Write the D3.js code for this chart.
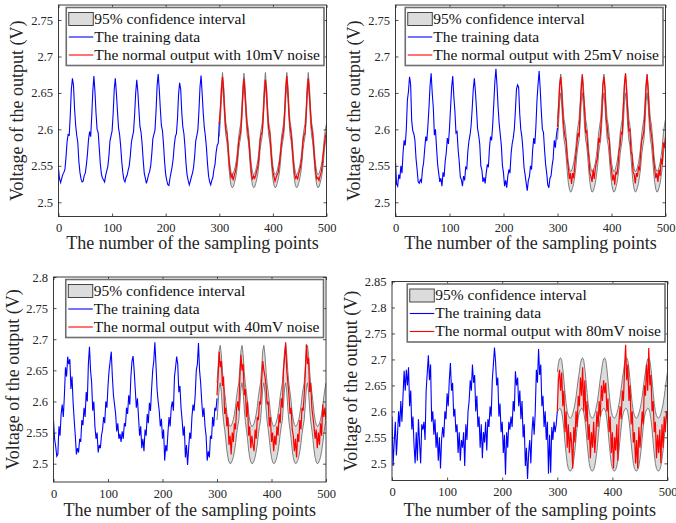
<!DOCTYPE html>
<html lang="en">
<head>
<meta charset="utf-8" />
<title>Output voltage with 95% confidence interval</title>
<script src="https://d3js.org/d3.v7.min.js"></script>
<style>
  body { margin: 0; background: #fff; }
  svg { display: block; font-family: "Liberation Serif", "Times New Roman", serif; }
</style>
</head>
<body>
<script>
// all voltages in mV; training starts at x=0, output and CI start at x=300, step 2
var xStep = 2, outStart = 300;
var xTicks = [0, 100, 200, 300, 400, 500];
var yTicksTop = [2.5, 2.55, 2.6, 2.65, 2.7, 2.75];
var yTicks3 = [2.5, 2.55, 2.6, 2.65, 2.7, 2.75, 2.8];
var yTicks4 = [2.5, 2.55, 2.6, 2.65, 2.7, 2.75, 2.8, 2.85];
var noiseLevels = ["10mV", "25mV", "40mV", "80mV"];
var legendNames = ["95% confidence interval", "The training data", "The normal output with "];
var xLabel = "The number of the sampling points";
var yLabel = "Voltage of the output (V)";

var train1 = [2546,2532,2527,2533,2538,2541,2545,2562,2583,2593,2592,2620,2655,2670,2660,2628,2606,2592,2582,2556,
  2541,2532,2528,2529,2537,2540,2551,2566,2586,2597,2590,2618,2652,2673,2652,2622,2600,2596,2575,2553,
  2539,2533,2531,2528,2537,2543,2549,2563,2584,2591,2598,2622,2655,2670,2650,2625,2602,2593,2577,2556,
  2541,2531,2528,2534,2537,2544,2550,2564,2582,2590,2597,2620,2650,2668,2652,2627,2604,2596,2580,2558,
  2540,2533,2526,2531,2538,2542,2550,2566,2587,2593,2599,2625,2660,2676,2655,2628,2605,2598,2579,2555,
  2538,2530,2524,2523,2533,2541,2549,2560,2578,2590,2594,2615,2648,2664,2655,2623,2603,2594,2576,2552,
  2537,2530,2524,2529,2535,2540,2548,2563,2584,2591,2599,2625,2658,2674,2650,2623,2603,2591,2575,2553,
  2536,2528,2524,2530,2534,2545,2552,2568,2578,2581,2610];
var out1 = [2608,2628,2655,2672,2655,2624,2600,2596,2579,2558,2543,2534,2538,2530,2537,2542,2550,2563,2582,2590,
  2597,2620,2652,2670,2650,2625,2604,2592,2577,2556,2540,2531,2536,2533,2537,2544,2549,2562,2584,2593,
  2596,2618,2650,2668,2654,2626,2601,2597,2576,2555,2542,2535,2529,2534,2538,2541,2552,2565,2581,2591,
  2598,2624,2657,2673,2652,2621,2603,2594,2578,2557,2541,2533,2536,2531,2539,2543,2551,2561,2583,2592,
  2595,2619,2653,2670,2651,2625,2602,2595,2576,2556,2540,2532,2534,2530,2536,2541,2550,2566,2580,2590,
  2596];
var ciUp1 = [2608,2630,2660,2678,2660,2632,2610,2602,2586,2565,2550,2541,2538,2539,2544,2550,2558,2571,2589,2600,
  2608,2630,2660,2677,2660,2632,2610,2602,2586,2565,2550,2541,2538,2539,2544,2550,2558,2571,2589,2600,
  2608,2630,2660,2678,2660,2632,2610,2602,2586,2565,2550,2541,2538,2539,2544,2550,2558,2571,2589,2600,
  2608,2630,2660,2678,2660,2632,2610,2602,2586,2565,2550,2541,2538,2539,2544,2550,2558,2571,2589,2600,
  2608,2630,2660,2678,2660,2632,2610,2602,2586,2565,2550,2541,2538,2539,2544,2550,2558,2571,2589,2600,
  2608];
var ciLo1 = [2590,2612,2642,2660,2642,2614,2592,2584,2568,2547,2532,2523,2520,2521,2526,2532,2540,2553,2571,2582,
  2590,2612,2642,2659,2642,2614,2592,2584,2568,2547,2532,2523,2520,2521,2526,2532,2540,2553,2571,2582,
  2590,2612,2642,2660,2642,2614,2592,2584,2568,2547,2532,2523,2520,2521,2526,2532,2540,2553,2571,2582,
  2590,2612,2642,2660,2642,2614,2592,2584,2568,2547,2532,2523,2520,2521,2526,2532,2540,2553,2571,2582,
  2590,2612,2642,2660,2642,2614,2592,2584,2568,2547,2532,2523,2520,2521,2526,2532,2540,2553,2571,2582,
  2590];

var train2 = [2556,2525,2522,2538,2532,2550,2540,2568,2585,2578,2600,2640,2652,2672,2662,2612,2598,2594,2585,2560,
  2545,2528,2526,2531,2528,2545,2554,2572,2590,2584,2605,2630,2660,2677,2650,2630,2592,2600,2575,2552,
  2540,2528,2533,2522,2541,2535,2556,2568,2588,2580,2602,2630,2658,2673,2645,2625,2595,2597,2572,2556,
  2535,2531,2522,2536,2530,2548,2546,2570,2584,2592,2605,2628,2655,2670,2652,2628,2601,2592,2580,2550,
  2544,2528,2534,2526,2540,2552,2548,2574,2590,2585,2606,2635,2665,2683,2660,2630,2608,2593,2578,2551,
  2540,2522,2530,2520,2536,2545,2540,2566,2580,2588,2600,2625,2655,2661,2658,2622,2600,2590,2572,2548,
  2538,2526,2516,2530,2535,2550,2545,2572,2588,2580,2604,2640,2662,2680,2655,2625,2600,2596,2572,2552,
  2540,2524,2520,2533,2536,2550,2560,2585,2575,2592,2602];
var out2 = [2603,2630,2660,2672,2650,2618,2600,2590,2583,2560,2548,2532,2540,2525,2540,2533,2552,2565,2580,2595,
  2590,2628,2655,2675,2648,2630,2596,2598,2575,2562,2540,2535,2528,2545,2532,2546,2555,2560,2588,2582,
  2600,2622,2660,2672,2655,2615,2605,2588,2585,2555,2545,2530,2538,2524,2542,2538,2550,2570,2578,2596,
  2594,2632,2662,2677,2652,2625,2598,2600,2570,2565,2542,2538,2526,2540,2535,2548,2545,2568,2585,2590,
  2598,2625,2658,2675,2650,2620,2602,2592,2580,2558,2546,2533,2540,2528,2545,2536,2560,2552,2582,2575,
  2590];
var ciUp2 = [2614,2636,2664,2676,2660,2634,2614,2606,2590,2570,2555,2546,2542,2543,2548,2554,2564,2576,2594,2605,
  2614,2636,2664,2676,2660,2634,2614,2606,2590,2570,2555,2546,2542,2543,2548,2554,2564,2576,2594,2605,
  2614,2636,2664,2676,2660,2634,2614,2606,2590,2570,2555,2546,2542,2543,2548,2554,2564,2576,2594,2605,
  2614,2636,2664,2677,2660,2634,2614,2606,2590,2570,2555,2546,2542,2543,2548,2554,2564,2576,2594,2605,
  2614,2636,2664,2676,2660,2634,2614,2606,2590,2570,2555,2546,2542,2543,2548,2554,2564,2576,2594,2605,
  2614];
var ciLo2 = [2586,2608,2638,2650,2632,2606,2586,2578,2562,2542,2527,2518,2514,2515,2520,2526,2536,2548,2566,2577,
  2586,2608,2638,2650,2632,2606,2586,2578,2562,2542,2527,2518,2514,2515,2520,2526,2536,2548,2566,2577,
  2586,2608,2638,2650,2632,2606,2586,2578,2562,2542,2527,2518,2514,2515,2520,2526,2536,2548,2566,2577,
  2586,2608,2638,2650,2632,2606,2586,2578,2562,2542,2527,2518,2514,2515,2520,2526,2536,2548,2566,2577,
  2586,2608,2638,2650,2632,2606,2586,2578,2562,2542,2527,2518,2514,2515,2520,2526,2536,2548,2566,2577,
  2586];

var train3 = [2570,2540,2528,2512,2515,2560,2545,2580,2595,2575,2610,2655,2640,2672,2660,2668,2620,2640,2598,2570,
  2545,2515,2525,2518,2540,2535,2570,2562,2590,2575,2615,2600,2660,2688,2650,2630,2585,2600,2560,2540,
  2550,2518,2530,2525,2545,2555,2575,2565,2600,2590,2625,2650,2665,2680,2640,2610,2595,2580,2552,2565,
  2540,2548,2535,2552,2540,2565,2560,2590,2580,2610,2595,2640,2665,2673,2650,2620,2590,2605,2575,2545,
  2560,2525,2540,2520,2555,2545,2580,2565,2598,2585,2620,2650,2665,2695,2660,2620,2600,2585,2560,2572,
  2540,2555,2505,2530,2520,2550,2575,2560,2590,2600,2585,2640,2655,2672,2660,2615,2625,2590,2570,2545,
  2560,2510,2530,2498,2525,2550,2540,2575,2595,2585,2610,2650,2660,2694,2650,2630,2600,2575,2590,2560,
  2545,2505,2520,2510,2545,2540,2575,2560,2590,2585,2605];
var out3 = [2610,2640,2680,2655,2665,2625,2640,2580,2590,2560,2575,2530,2545,2515,2550,2535,2565,2555,2590,2600,
  2585,2640,2675,2650,2660,2610,2620,2575,2600,2545,2560,2525,2545,2530,2520,2555,2540,2575,2570,2600,
  2595,2635,2665,2650,2640,2625,2595,2600,2560,2575,2535,2550,2520,2545,2530,2560,2545,2580,2565,2605,
  2590,2650,2670,2695,2650,2630,2610,2580,2590,2555,2545,2520,2540,2510,2548,2535,2570,2555,2590,2585,
  2610,2645,2692,2660,2670,2615,2630,2590,2575,2560,2540,2555,2525,2550,2530,2565,2545,2595,2575,2590,
  2570];
var ciUp3 = [2630,2655,2682,2690,2675,2648,2628,2615,2600,2582,2570,2563,2560,2561,2565,2571,2580,2592,2608,2620,
  2630,2655,2682,2690,2675,2648,2628,2615,2600,2582,2570,2563,2560,2561,2565,2571,2580,2592,2608,2620,
  2630,2655,2682,2690,2675,2648,2628,2615,2600,2582,2570,2563,2560,2561,2565,2571,2580,2592,2608,2620,
  2630,2655,2682,2691,2675,2648,2628,2615,2600,2582,2570,2563,2560,2561,2565,2571,2580,2592,2608,2620,
  2630,2655,2682,2690,2675,2648,2628,2615,2600,2582,2570,2563,2560,2561,2565,2571,2580,2592,2608,2620,
  2630];
var ciLo3 = [2570,2595,2622,2630,2615,2588,2568,2555,2540,2522,2510,2503,2500,2501,2505,2511,2520,2532,2548,2560,
  2570,2595,2622,2630,2615,2588,2568,2555,2540,2522,2510,2503,2500,2501,2505,2511,2520,2532,2548,2560,
  2570,2595,2622,2630,2615,2588,2568,2555,2540,2522,2510,2503,2500,2501,2505,2511,2520,2532,2548,2560,
  2570,2595,2622,2630,2615,2588,2568,2555,2540,2522,2510,2503,2500,2501,2505,2511,2520,2532,2548,2560,
  2570,2595,2622,2630,2615,2588,2568,2555,2540,2522,2510,2503,2500,2501,2505,2511,2520,2532,2548,2560,
  2570];

var train4 = [2590,2495,2540,2580,2515,2555,2600,2570,2620,2580,2630,2678,2640,2680,2650,2685,2610,2640,2565,2590,
  2535,2500,2560,2505,2585,2540,2500,2575,2565,2580,2545,2640,2675,2708,2660,2690,2580,2600,2555,2585,
  2530,2560,2505,2550,2490,2545,2570,2550,2600,2585,2635,2610,2660,2693,2640,2655,2590,2605,2560,2575,
  2520,2560,2505,2545,2530,2560,2495,2575,2545,2600,2620,2660,2640,2690,2655,2670,2600,2630,2570,2590,
  2530,2575,2510,2560,2540,2580,2525,2585,2570,2610,2590,2660,2690,2723,2695,2650,2665,2590,2615,2560,
  2580,2520,2555,2478,2560,2530,2580,2565,2590,2570,2620,2600,2677,2650,2665,2610,2640,2585,2620,2550,
  2575,2495,2530,2470,2520,2545,2500,2560,2590,2555,2600,2680,2655,2720,2670,2690,2610,2630,2570,2600,
  2545,2580,2480,2555,2482,2570,2545,2580,2560,2575,2600];
var out4 = [2600,2660,2680,2640,2675,2610,2640,2560,2600,2530,2575,2520,2560,2540,2490,2570,2540,2600,2570,2630,
  2610,2665,2630,2685,2600,2660,2580,2620,2545,2575,2510,2560,2530,2580,2520,2555,2600,2570,2620,2590,
  2650,2620,2660,2635,2655,2600,2625,2560,2590,2520,2560,2490,2550,2525,2575,2505,2580,2610,2585,2640,
  2620,2680,2728,2660,2690,2620,2650,2575,2600,2540,2560,2500,2545,2490,2570,2530,2560,2600,2575,2650,
  2630,2690,2640,2722,2650,2670,2600,2620,2560,2580,2510,2555,2520,2565,2500,2575,2530,2590,2560,2600,
  2585];
var ciUp4 = [2676,2692,2701,2703,2698,2682,2660,2636,2615,2600,2592,2588,2587,2590,2596,2604,2614,2628,2645,2662,
  2676,2692,2701,2703,2698,2682,2660,2636,2615,2600,2592,2588,2587,2590,2596,2604,2614,2628,2645,2662,
  2676,2692,2701,2703,2698,2682,2660,2636,2615,2600,2592,2588,2587,2590,2596,2604,2614,2628,2645,2662,
  2676,2692,2701,2703,2698,2682,2660,2636,2615,2600,2592,2588,2587,2590,2596,2604,2614,2628,2645,2662,
  2676,2692,2701,2703,2698,2682,2660,2636,2615,2600,2592,2588,2587,2590,2596,2604,2614,2628,2645,2662,
  2676];
var ciLo4 = [2598,2603,2606,2605,2598,2585,2565,2540,2518,2500,2490,2486,2485,2488,2495,2508,2525,2548,2570,2588,
  2598,2603,2606,2605,2598,2585,2565,2540,2518,2500,2490,2486,2485,2488,2495,2508,2525,2548,2570,2588,
  2598,2603,2606,2605,2598,2585,2565,2540,2518,2500,2490,2486,2485,2488,2495,2508,2525,2548,2570,2588,
  2598,2603,2606,2605,2598,2585,2565,2540,2518,2500,2490,2486,2485,2488,2495,2508,2525,2548,2570,2588,
  2598,2603,2606,2605,2598,2585,2565,2540,2518,2500,2490,2486,2485,2488,2495,2508,2525,2548,2570,2588,
  2598];

// layout of the four axes (pixels)
var panels = [
  {train: train1, out: out1, up: ciUp1, lo: ciLo1, noise: noiseLevels[0], yTicks: yTicksTop,
   yDom: [2.4805, 2.7706], l: 58.5, t: 5, r: 326.5, b: 216.5, ylx: 22.5, xly: 249},
  {train: train2, out: out2, up: ciUp2, lo: ciLo2, noise: noiseLevels[1], yTicks: yTicksTop,
   yDom: [2.4805, 2.7706], l: 395.5, t: 5, r: 665.5, b: 216.5, ylx: 360, xly: 249},
  {train: train3, out: out3, up: ciUp3, lo: ciLo3, noise: noiseLevels[2], yTicks: yTicks3,
   yDom: [2.4706, 2.8], l: 53.5, t: 277, r: 326, b: 482, ylx: 19, xly: 516},
  {train: train4, out: out4, up: ciUp4, lo: ciLo4, noise: noiseLevels[3], yTicks: yTicks4,
   yDom: [2.467, 2.85], l: 392, t: 281.5, r: 667.5, b: 480.5, ylx: 356.5, xly: 516}
];

var svg = d3.select("body").append("svg")
  .attr("width", 676)
  .attr("height", 523);

var fmt = function(d) { return String(+d.toFixed(2)); };

panels.forEach(function(p, k) {
  var x = d3.scaleLinear().domain([0, 500]).range([p.l, p.r]);
  var y = d3.scaleLinear().domain(p.yDom).range([p.b, p.t]);
  var g = svg.append("g");

  svg.append("clipPath").attr("id", "clip" + k)
    .append("rect").attr("x", p.l).attr("y", p.t).attr("width", p.r - p.l).attr("height", p.b - p.t);

  var plot = g.append("g").attr("clip-path", "url(#clip" + k + ")");

  var ci = p.up.map(function(v, i) { return {x: outStart + i * xStep, up: v / 1000, lo: p.lo[i] / 1000}; });
  plot.append("path").datum(ci)
    .attr("d", d3.area().x(function(d) { return x(d.x); }).y0(function(d) { return y(d.lo); }).y1(function(d) { return y(d.up); }))
    .attr("fill", "#dcdcdc");
  ["up", "lo"].forEach(function(key) {
    plot.append("path").datum(ci)
      .attr("d", d3.line().x(function(d) { return x(d.x); }).y(function(d) { return y(d[key]); }))
      .attr("fill", "none").attr("stroke", "#707070").attr("stroke-width", 0.9);
  });

  var line = d3.line().x(function(d) { return x(d[0]); }).y(function(d) { return y(d[1]); });
  plot.append("path")
    .datum(p.train.map(function(v, i) { return [i * xStep, v / 1000]; }))
    .attr("d", line).attr("fill", "none").attr("stroke", "#0000ff").attr("stroke-width", 1.1);
  plot.append("path")
    .datum(p.out.map(function(v, i) { return [outStart + i * xStep, v / 1000]; }))
    .attr("d", line).attr("fill", "none").attr("stroke", "#ff0000").attr("stroke-width", 1.2);

  // axes with inward ticks on all four sides
  var ax = [
    g.append("g").attr("transform", "translate(0," + p.b + ")")
      .call(d3.axisBottom(x).tickValues(xTicks).tickSizeInner(-3).tickSizeOuter(0).tickPadding(7).tickFormat(d3.format("d"))),
    g.append("g").attr("transform", "translate(" + p.l + ",0)")
      .call(d3.axisLeft(y).tickValues(p.yTicks).tickSizeInner(-3).tickSizeOuter(0).tickPadding(5.5).tickFormat(fmt)),
    g.append("g").attr("transform", "translate(0," + p.t + ")")
      .call(d3.axisTop(x).tickValues(xTicks).tickSizeInner(-3).tickSizeOuter(0).tickFormat("")),
    g.append("g").attr("transform", "translate(" + p.r + ",0)")
      .call(d3.axisRight(y).tickValues(p.yTicks).tickSizeInner(-3).tickSizeOuter(0).tickFormat(""))
  ];
  ax.forEach(function(a) {
    a.attr("font-family", null).attr("font-size", null);
    a.select(".domain").remove();
    a.selectAll("line").attr("stroke", "#262626").attr("stroke-width", 0.8);
    a.selectAll("text").attr("font-size", 12.5).attr("fill", "#262626");
  });

  g.append("rect")
    .attr("x", p.l).attr("y", p.t).attr("width", p.r - p.l).attr("height", p.b - p.t)
    .attr("fill", "none").attr("stroke", "#262626").attr("stroke-width", 0.9);

  g.append("text")
    .attr("x", (p.l + p.r) / 2).attr("y", p.xly)
    .attr("text-anchor", "middle").attr("font-size", 18).attr("fill", "#262626")
    .text(xLabel);
  g.append("text")
    .attr("transform", "translate(" + p.ylx + "," + (p.t + p.b) / 2 + ") rotate(-90)")
    .attr("text-anchor", "middle").attr("font-size", 18).attr("fill", "#262626")
    .text(yLabel);

  // legend, top right inside the axes
  var names = [legendNames[0], legendNames[1], legendNames[2] + p.noise + " noise"];
  var lg = g.append("g");
  var box = lg.append("rect").attr("fill", "#fff").attr("stroke", "#6e6e6e").attr("stroke-width", 1.6);
  var texts = names.map(function(s, i) {
    return lg.append("text").attr("font-size", 15.5).attr("fill", "#111").text(s);
  });
  var wMax = d3.max(texts, function(t) { return t.node().getComputedTextLength(); });
  var bw = 28 + wMax + 4, bx = p.r - 2.5 - bw, by = p.t + 2.5;
  box.attr("x", bx).attr("y", by).attr("width", bw).attr("height", 58);
  texts.forEach(function(t, i) { t.attr("x", bx + 28).attr("y", by + 16 + i * 18); });
  lg.append("rect").attr("x", bx + 2.5).attr("y", by + 5).attr("width", 24.5).attr("height", 13)
    .attr("fill", "#dcdcdc").attr("stroke", "#333").attr("stroke-width", 0.9);
  lg.append("line").attr("x1", bx + 2.5).attr("x2", bx + 27).attr("y1", by + 29.5).attr("y2", by + 29.5)
    .attr("stroke", "#0000ff").attr("stroke-width", 1.1);
  lg.append("line").attr("x1", bx + 2.5).attr("x2", bx + 27).attr("y1", by + 47.5).attr("y2", by + 47.5)
    .attr("stroke", "#ff0000").attr("stroke-width", 1.1);
});
</script>
</body>
</html>
